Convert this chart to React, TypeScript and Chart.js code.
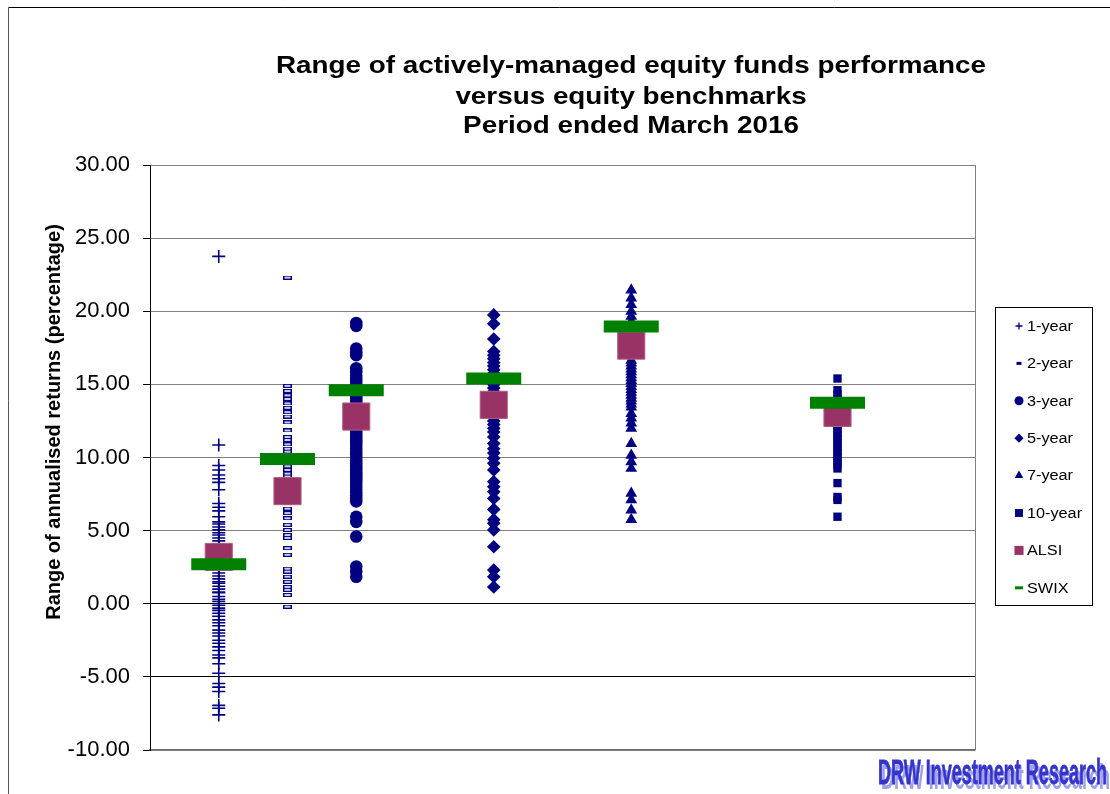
import React, { useEffect, useRef } from 'react';
import { Chart, registerables } from 'chart.js';
import { drawPoint } from 'chart.js/helpers';

Chart.register(...registerables);

const FONT = '"Liberation Sans", Arial, sans-serif';
const NAVY = '#000080';
const ALSI_COLOR = '#993366';
const SWIX_COLOR = '#008000';

const titleLines = [
  'Range of actively-managed equity funds performance',
  'versus equity benchmarks',
  'Period ended March 2016',
];
const yAxisTitle = 'Range of annualised returns (percentage)';
const watermark = 'DRW Investment Research';

const seriesNames = ['1-year', '2-year', '3-year', '5-year', '7-year', '10-year', 'ALSI', 'SWIX'];
const periodYears = [1, 2, 3, 5, 7, 10];

const oneYear = [
  23.75, 10.85, 9.45, 9.15, 8.8, 8.55, 8.3, 7.8, 6.85, 6.6, 6.35, 5.95, 5.6, 5.45, 5.25, 5.05,
  4.85, 4.7, 4.5, 4.3, 4.1, 3.9, 3.7, 3.5, 3.3, 3.1, 2.9, 2.7, 2.5, 2.3, 2.1, 1.9, 1.7, 1.5,
  1.4, 1.2, 1.0, 0.8, 0.75, 0.5, 0.3, 0.15, -0.1, -0.3, -0.45, -0.65, -0.85, -1.1, -1.3, -1.5,
  -1.8, -2.0, -2.2, -2.5, -2.7, -2.95, -3.2, -3.5, -3.7, -4.1, -4.75, -5.45, -5.7, -6.0,
  -6.95, -7.15, -7.6,
];
const twoYear = [
  22.3, 14.9, 14.55, 14.25, 14.0, 13.7, 13.4, 13.1, 12.8, 12.4, 11.85, 11.4, 11.2, 10.9, 10.6,
  10.4, 10.2, 10.0, 9.8, 9.6, 9.4, 9.15, 8.9, 8.7, 8.4, 8.1, 7.8, 7.5, 7.2, 6.9, 6.5, 6.2, 5.85,
  5.4, 5.05, 4.7, 4.5, 3.8, 3.35, 2.4, 2.2, 1.85, 1.5, 1.15, 0.95, 0.6, -0.2,
];
const threeYear = [
  19.2, 19.0, 17.45, 17.2, 17.0, 16.1, 15.85, 15.6, 15.4, 15.2, 15.0, 14.8, 14.6, 14.4, 14.2,
  14.0, 13.8, 13.6, 13.4, 13.2, 13.0, 12.8, 12.6, 12.4, 12.2, 12.0, 11.8, 11.6, 11.4, 11.2, 11.0,
  10.8, 10.6, 10.4, 10.2, 10.0, 9.8, 9.6, 9.4, 9.2, 9.0, 8.8, 8.6, 8.4, 8.2, 8.0, 7.8, 7.6, 7.4,
  7.2, 7.0, 5.95, 5.6, 4.6, 2.55, 2.2, 1.85,
];
const fiveYear = [
  19.75, 19.15, 18.1, 17.25, 17.0, 16.75, 16.5, 16.25, 16.0, 15.75, 15.5, 15.25, 15.0, 14.75,
  14.5, 14.25, 14.0, 13.75, 13.5, 13.25, 13.0, 12.75, 12.5, 12.25, 12.0, 11.75, 11.4, 10.95,
  10.6, 10.3, 9.95, 9.6, 9.15, 8.35, 8.0, 7.65, 7.2, 6.45, 5.75, 5.5, 5.05, 3.9, 2.3, 1.85, 1.15,
];
const sevenYear = [
  21.45, 20.9, 20.45, 20.0, 19.65, 19.3, 18.6, 16.65, 16.45, 16.25, 16.05, 15.85, 15.65, 15.45,
  15.25, 15.05, 14.85, 14.65, 14.45, 14.25, 14.05, 13.85, 13.65, 13.45, 13.0, 12.7, 12.35, 12.0,
  10.95, 10.15, 9.7, 9.25, 7.55, 7.1, 6.4, 5.75,
];
const tenYear = [
  15.4, 14.6, 14.3, 14.0, 13.5, 12.9, 12.6, 12.3, 12.0, 11.75, 11.5, 11.25, 11.0, 10.75, 10.5,
  10.25, 10.0, 9.75, 9.5, 9.25, 8.25, 7.3, 7.1, 5.95,
];
const alsi = [3.2, 7.7, 12.8, 13.6, 17.65, 13.05];
const swix = [2.7, 9.9, 14.6, 15.4, 18.95, 13.75];

const yMin = -10;
const yMax = 30;
const yStep = 5;
const xMin = 0;
const xMax = 12;

function makeDash(w: number, h: number, hollow: boolean) {
  const c = document.createElement('canvas');
  c.width = w;
  c.height = h;
  const g = c.getContext('2d')!;
  g.fillStyle = NAVY;
  g.fillRect(0, 0, w, h);
  if (hollow) {
    g.fillStyle = '#ffffff';
    g.fillRect(1.5, 1.2, w - 3, h - 2.4);
  }
  return c;
}

const pts = (x: number, arr: number[]) => arr.map((v) => ({ x, y: v }));

export default function App() {
  const ref = useRef<HTMLCanvasElement | null>(null);

  useEffect(() => {
    if (!ref.current) return;
    const dash = makeDash(9, 4, true);

    const legendMarkers: any[] = [
      { pointStyle: 'cross', radius: 3.5, borderWidth: 1.3, color: NAVY },
      { custom: 'dash', w: 5, h: 3, color: NAVY },
      { pointStyle: 'circle', radius: 4.5, borderWidth: 0, color: NAVY },
      { pointStyle: 'rectRot', radius: 4.6, borderWidth: 0, color: NAVY },
      { pointStyle: 'triangle', radius: 5, borderWidth: 0, color: NAVY },
      { pointStyle: 'rect', radius: 5.6, borderWidth: 0, color: NAVY },
      { pointStyle: 'rect', radius: 6.4, borderWidth: 0, color: ALSI_COLOR },
      { custom: 'dash', w: 8, h: 3, color: SWIX_COLOR },
    ];

    const decor = {
      id: 'decor',
      beforeDraw(chart: any) {
        const ctx = chart.ctx;
        ctx.save();
        ctx.fillStyle = '#ffffff';
        ctx.fillRect(0, 0, chart.width, chart.height);
        ctx.strokeStyle = '#000000';
        ctx.lineWidth = 1;
        ctx.beginPath();
        ctx.moveTo(8.5, 7.5);
        ctx.lineTo(chart.width, 7.5);
        ctx.stroke();
        ctx.strokeStyle = '#555555';
        ctx.beginPath();
        ctx.moveTo(8.5, 7.5);
        ctx.lineTo(8.5, chart.height);
        ctx.stroke();
        ctx.restore();
      },
      afterDatasetsDraw(chart: any) {
        const ctx = chart.ctx;
        const a = chart.chartArea;
        ctx.save();
        ctx.strokeStyle = '#808080';
        ctx.lineWidth = 1;
        ctx.beginPath();
        ctx.moveTo(Math.round(a.right) + 0.5, a.top);
        ctx.lineTo(Math.round(a.right) + 0.5, a.bottom);
        ctx.stroke();
        ctx.restore();
      },
      afterDraw(chart: any) {
        const ctx = chart.ctx;
        const a = chart.chartArea;
        ctx.save();
        ctx.fillStyle = '#000000';
        ctx.font = `bold 24px ${FONT}`;
        ctx.textAlign = 'center';
        ctx.textBaseline = 'alphabetic';
        const baselines = [73.3, 103.8, 132.5];
        titleLines.forEach((t, i) => {
          ctx.save();
          ctx.translate(631, baselines[i]);
          ctx.scale(1.16, 1);
          ctx.fillText(t, 0, 0);
          ctx.restore();
        });
        ctx.save();
        ctx.translate(59.5, 422);
        ctx.rotate(-Math.PI / 2);
        ctx.font = `bold 20px ${FONT}`;
        ctx.textAlign = 'center';
        ctx.fillText(yAxisTitle, 0, 0);
        ctx.restore();

        const lx = a.right + 20;
        const ly = 307;
        ctx.strokeStyle = '#000000';
        ctx.lineWidth = 1;
        ctx.strokeRect(Math.round(lx) + 0.5, ly + 0.5, 97, 298);
        seriesNames.forEach((name, i) => {
          const cy = 326 + i * 37.4;
          const mx = lx + 24;
          const m = legendMarkers[i];
          ctx.save();
          ctx.fillStyle = m.color;
          ctx.strokeStyle = m.color;
          if (m.custom === 'dash') {
            ctx.fillRect(mx - m.w / 2, cy - m.h / 2, m.w, m.h);
          } else {
            ctx.lineWidth = m.borderWidth || 0;
            drawPoint(ctx, { pointStyle: m.pointStyle, radius: m.radius, borderWidth: m.borderWidth, rotation: 0 } as any, mx, cy);
          }
          ctx.restore();
          ctx.save();
          ctx.fillStyle = '#000000';
          ctx.font = `14px ${FONT}`;
          ctx.textAlign = 'left';
          ctx.textBaseline = 'middle';
          ctx.translate(lx + 32, cy + 1);
          ctx.scale(1.16, 1);
          ctx.fillText(name, 0, 0);
          ctx.restore();
        });

        ctx.font = `bold 35px "Liberation Sans Narrow", ${FONT}`;
        ctx.textAlign = 'left';
        ctx.textBaseline = 'alphabetic';
        const w = ctx.measureText(watermark).width;
        const sx = 229 / w;
        ctx.save();
        ctx.translate(881, 789);
        ctx.scale(sx, 1);
        ctx.fillStyle = 'rgba(150,150,235,0.9)';
        ctx.fillText(watermark, 0, 0);
        ctx.restore();
        ctx.save();
        ctx.translate(878, 784);
        ctx.scale(sx, 1);
        ctx.fillStyle = '#3535cc';
        ctx.strokeStyle = '#3535cc';
        ctx.lineWidth = 0.8;
        ctx.fillText(watermark, 0, 0);
        ctx.strokeText(watermark, 0, 0);
        ctx.restore();
        ctx.restore();
      },
    };

    const chart = new Chart(ref.current, {
      type: 'scatter',
      data: {
        datasets: [
          {
            label: seriesNames[0],
            data: pts(periodYears[0], oneYear),
            pointStyle: 'cross',
            pointRadius: 6.5,
            pointBorderWidth: 1.6,
            pointBorderColor: NAVY,
            pointBackgroundColor: NAVY,
            order: 2,
          },
          {
            label: seriesNames[1],
            data: pts(periodYears[1], twoYear),
            pointStyle: dash as any,
            pointRadius: 4,
            order: 2,
          },
          {
            label: seriesNames[2],
            data: pts(periodYears[2], threeYear),
            pointStyle: 'circle',
            pointRadius: 6.3,
            pointBorderWidth: 0,
            pointBackgroundColor: NAVY,
            pointBorderColor: NAVY,
            order: 2,
          },
          {
            label: seriesNames[3],
            data: pts(periodYears[3], fiveYear),
            pointStyle: 'rectRot',
            pointRadius: 6.8,
            pointBorderWidth: 0,
            pointBackgroundColor: NAVY,
            pointBorderColor: NAVY,
            order: 2,
          },
          {
            label: seriesNames[4],
            data: pts(periodYears[4], sevenYear),
            pointStyle: 'triangle',
            pointRadius: 6.8,
            pointBorderWidth: 0,
            pointBackgroundColor: NAVY,
            pointBorderColor: NAVY,
            order: 2,
          },
          {
            label: seriesNames[5],
            data: pts(periodYears[5], tenYear),
            pointStyle: 'rect',
            pointRadius: 5.9,
            pointBorderWidth: 0,
            pointBackgroundColor: NAVY,
            pointBorderColor: NAVY,
            order: 2,
          },
          {
            label: seriesNames[6],
            data: periodYears.map((x, i) => ({ x, y: alsi[i] })),
            pointStyle: 'rect',
            pointRadius: 19.2,
            pointBorderWidth: 1,
            pointBackgroundColor: ALSI_COLOR,
            pointBorderColor: '#b0607e',
            order: 1,
          },
          {
            label: seriesNames[7],
            data: periodYears.map((x, i) => ({ x, y: swix[i] })),
            pointStyle: 'line',
            pointRadius: 27.5,
            pointBorderWidth: 12,
            pointBackgroundColor: SWIX_COLOR,
            pointBorderColor: SWIX_COLOR,
            order: 0,
          },
        ],
      },
      options: {
        animation: false,
        responsive: false,
        maintainAspectRatio: false,
        events: [],
        layout: { padding: { left: 0, right: 135, top: 165, bottom: 44 } },
        plugins: {
          legend: { display: false },
          title: { display: false },
          tooltip: { enabled: false },
        },
        scales: {
          x: {
            type: 'linear',
            min: xMin,
            max: xMax,
            ticks: { display: false },
            grid: { display: false, drawTicks: false },
            border: { display: true, color: '#707070', width: 1.5 },
            afterFit: (s: any) => {
              s.height = 0;
            },
          },
          y: {
            type: 'linear',
            min: yMin,
            max: yMax,
            ticks: {
              stepSize: yStep,
              color: '#000000',
              padding: 13,
              font: { family: FONT, size: 22 },
              callback: (v: any) => Number(v).toFixed(2),
            },
            grid: {
              color: (c: any) => (c.tick && (c.tick.value === 0 || c.tick.value === -5) ? '#000000' : '#808080'),
              lineWidth: 1,
              tickLength: 7,
              tickColor: '#000000',
            },
            border: { display: true, color: '#000000', width: 1 },
            afterFit: (s: any) => {
              s.width = 150;
            },
          },
        },
      },
      plugins: [decor],
    } as any);

    return () => chart.destroy();
  }, []);

  return (
    <div style={{ position: 'fixed', left: 0, top: 0, width: 1110, height: 794, overflow: 'hidden', background: '#fff' }}>
      <canvas ref={ref} width={1110} height={794} style={{ display: 'block', width: 1110, height: 794 }} />
    </div>
  );
}
